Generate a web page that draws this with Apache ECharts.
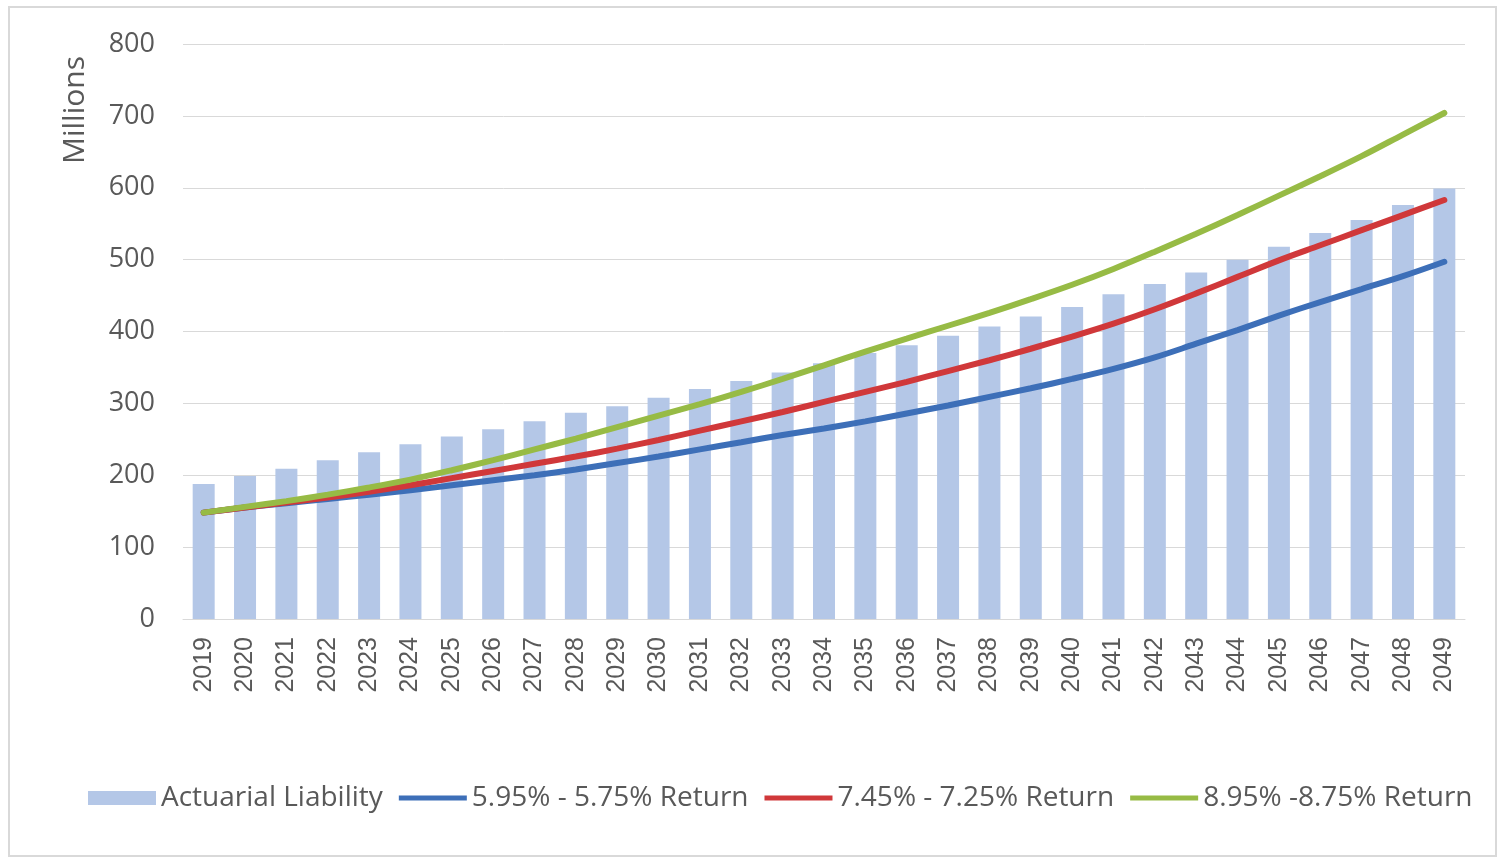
<!DOCTYPE html>
<html>
<head>
<meta charset="utf-8">
<script src="https://cdn.jsdelivr.net/npm/echarts@6/dist/echarts.min.js"></script>
<style>
  html, body { margin: 0; padding: 0; background: #ffffff; }
  #chart { width: 1505px; height: 859px; }
</style>
</head>
<body>
<div id="chart"></div>
<script>
// Projection years
const years = ['2019','2020','2021','2022','2023','2024','2025','2026','2027','2028','2029','2030',
  '2031','2032','2033','2034','2035','2036','2037','2038','2039','2040','2041','2042','2043','2044',
  '2045','2046','2047','2048','2049'];

// Actuarial liability (millions)
const liability = [188,199,209,221,232,243,254,264,275,287,296,308,320,331,343,356,370,381,394,407,
  421,434,452,466,482,500,518,537,555,576,599];

// Assets under three return assumptions (millions)
const assetsLow = [148,155,161,167,173,179,186,193,200,208,217,226,236,246,256,265,275,286,297,309,
  321,334,348,364,383,402,422,441,459,477,497];
const assetsMid = [148,155,162,169,177,186,196,206,216,226,237,249,262,275,288,302,316,330,345,360,
  376,393,411,431,453,476,499,520,541,562,583];
const assetsHigh = [148,156,164,173,183,194,207,221,236,251,267,283,299,316,334,353,372,390,408,426,
  445,465,487,511,536,562,589,616,644,674,704];

const seriesNames = ['Actuarial Liability','5.95% - 5.75% Return','7.45% - 7.25% Return','8.95% -8.75% Return'];
const yTicks = { min: 0, max: 800, interval: 100 };

const textColor = '#595959';
const gridColor = '#d9d9d9';
const lineColors = ['#3d6fb8', '#d0383a', '#97bb45'];

// Flat bar used as the legend key of each line series
const lineKey = 'path://M0,0 L70,0 L70,5 L0,5 Z';

const chart = echarts.init(document.getElementById('chart'), null, { renderer: 'canvas' });

function lineSeries(name, data, color) {
  return {
    name: name,
    type: 'line',
    data: data,
    smooth: 0.35,
    symbol: 'none',
    showSymbol: false,
    lineStyle: { color: color, width: 6, cap: 'round' },
    itemStyle: { color: color },
    z: 3
  };
}

chart.setOption({
  animation: false,
  backgroundColor: '#ffffff',
  textStyle: { fontFamily: '"Open Sans", sans-serif' },
  grid: { left: 183, right: 40, top: 44, bottom: 240, containLabel: false },
  graphic: [
    {
      type: 'rect',
      shape: { x: 9, y: 7, width: 1487, height: 849 },
      style: { fill: 'none', stroke: '#d9d9d9', lineWidth: 2 },
      silent: true
    },
    {
      type: 'text',
      x: 75, y: 110,
      rotation: Math.PI / 2,
      style: {
        text: 'Millions',
        fill: textColor,
        font: '30px "Open Sans", sans-serif',
        textAlign: 'center',
        textVerticalAlign: 'middle'
      }
    }
  ],
  legend: {
    left: 83,
    top: 779,
    itemWidth: 68,
    itemHeight: 14,
    itemGap: 16,
    data: [
      { name: seriesNames[0], icon: 'rect' },
      { name: seriesNames[1], icon: lineKey, itemStyle: { color: lineColors[0] } },
      { name: seriesNames[2], icon: lineKey, itemStyle: { color: lineColors[1] } },
      { name: seriesNames[3], icon: lineKey, itemStyle: { color: lineColors[2] } }
    ],
    textStyle: { color: textColor, fontSize: 28, fontFamily: '"Open Sans", sans-serif' }
  },
  xAxis: {
    type: 'category',
    data: years,
    axisLine: { lineStyle: { color: gridColor, width: 1 } },
    axisTick: { show: false },
    axisLabel: {
      rotate: 90,
      interval: 0,
      margin: 18,
      color: textColor,
      fontSize: 25,
      fontFamily: 'Liberation Sans, Arial, sans-serif'
    }
  },
  yAxis: {
    type: 'value',
    min: yTicks.min,
    max: yTicks.max,
    interval: yTicks.interval,
    axisLine: { show: false },
    axisTick: { show: false },
    splitLine: { lineStyle: { color: gridColor, width: 1 } },
    axisLabel: {
      margin: 28,
      color: textColor,
      fontSize: 27,
      fontFamily: '"Open Sans", sans-serif'
    }
  },
  series: [
    {
      name: seriesNames[0],
      type: 'bar',
      data: liability,
      barWidth: 22,
      itemStyle: { color: '#b4c7e7' },
      z: 2
    },
    lineSeries(seriesNames[1], assetsLow, lineColors[0]),
    lineSeries(seriesNames[2], assetsMid, lineColors[1]),
    lineSeries(seriesNames[3], assetsHigh, lineColors[2])
  ]
});
</script>
</body>
</html>
